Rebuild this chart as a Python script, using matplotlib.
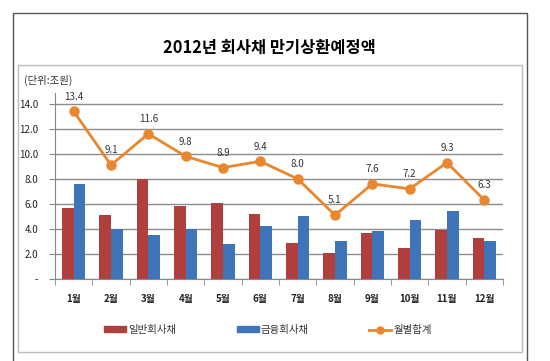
import numpy as np
import matplotlib
matplotlib.use("Agg")
import matplotlib.pyplot as plt
from matplotlib.patches import Rectangle, Patch
from matplotlib.lines import Line2D

plt.rcParams['font.family'] = ['Noto Sans CJK KR', 'DejaVu Sans']

# data
months = ['1월', '2월', '3월', '4월', '5월', '6월', '7월', '8월', '9월', '10월', '11월', '12월']
general = [5.7, 5.1, 8.0, 5.8, 6.1, 5.2, 2.9, 2.1, 3.7, 2.5, 3.9, 3.3]
financial = [7.6, 4.0, 3.5, 4.0, 2.8, 4.2, 5.0, 3.0, 3.8, 4.7, 5.4, 3.0]
total = [13.4, 9.1, 11.6, 9.8, 8.9, 9.4, 8.0, 5.1, 7.6, 7.2, 9.3, 6.3]
yticks = [0, 2, 4, 6, 8, 10, 12, 14]
ytick_labels = ['-', '2.0', '4.0', '6.0', '8.0', '10.0', '12.0', '14.0']

c_red = '#B0403D'
c_blue = '#3E74BA'
c_orange = '#E8872E'

W, H = 550, 361
fig = plt.figure(figsize=(5.5, 3.61), dpi=100)

# frames
fig.patches.append(Rectangle((12.7 / W, -0.05), (526.7 - 12.7) / W, 1 - 12.7 / H + 0.05,
                             transform=fig.transFigure, fill=False, ec='#555555', lw=1.0))
fig.patches.append(Rectangle((18.3 / W, 1 - 351.7 / H), (521.7 - 18.3) / W, (351.7 - 65) / H,
                             transform=fig.transFigure, fill=False, ec='#bbbbbb', lw=1.0))

fig.text(269 / W, 1 - 48 / H, '2012년 회사채 만기상환예정액', ha='center', va='center',
         fontsize=11.8, fontweight='bold')
fig.text(24 / W, 1 - 80 / H, '(단위:조원)', ha='left', va='center', fontsize=7.5, color='#333333')

ax = fig.add_axes([55 / W, 1 - 279 / H, (503 - 55) / W, (279 - 93) / H])
x = np.arange(len(months))
bw = 0.31
ax.bar(x - bw / 2, general, bw, color=c_red, zorder=3)
ax.bar(x + bw / 2, financial, bw, color=c_blue, zorder=3)
ax.plot(x, total, color=c_orange, lw=2, marker='o', ms=6.5, zorder=4)
for xi, v in zip(x, total):
    ax.annotate(f'{v:.1f}', (xi, v), xytext=(0, 7), textcoords='offset points',
                ha='center', va='bottom', fontsize=7, color='#333333')

ax.set_xlim(-0.5, len(months) - 0.5)
ax.set_ylim(0, 14.86)
ax.set_yticks(yticks)
ax.set_yticklabels(ytick_labels, fontsize=7, color='#222222')
ax.set_xticks(x)
ax.set_xticklabels(months, fontsize=7, fontweight='bold', color='#222222')
ax.set_xticks(np.arange(len(months) + 1) - 0.5, minor=True)
ax.tick_params(axis='x', which='major', length=0, pad=11)
ax.tick_params(axis='x', which='minor', length=4, color='#888888')
ax.tick_params(axis='y', length=4, color='#888888', pad=8)
ax.grid(axis='y', color='#8c8c8c', lw=1, zorder=0)
for s in ['top', 'right']:
    ax.spines[s].set_visible(False)
ax.spines['left'].set_color('#888888')
ax.spines['bottom'].set_color('#888888')

handles = [Patch(color=c_red, label='일반회사채'),
           Patch(color=c_blue, label='금융회사채'),
           Line2D([], [], color=c_orange, lw=2, marker='o', ms=5, label='월별합계')]
fig.legend(handles=handles, loc='center', bbox_to_anchor=(268 / W, 1 - 330 / H), ncol=3,
           frameon=False, fontsize=7.5, handlelength=2.1, handleheight=0.55,
           columnspacing=5.8, handletextpad=0.2, labelcolor='#333333')

fig.savefig('out.png', dpi=100)
